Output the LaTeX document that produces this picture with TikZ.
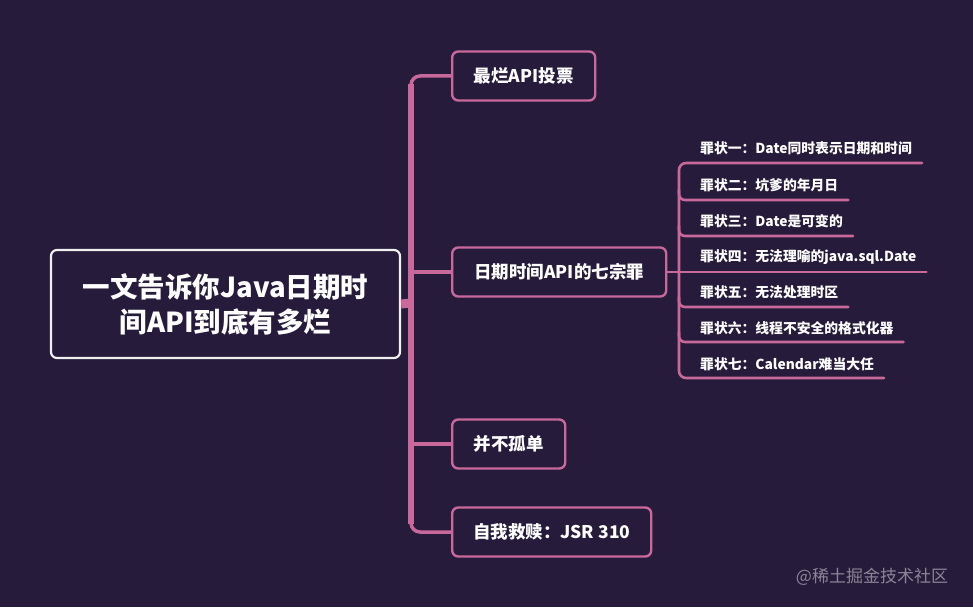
\documentclass[tikz,border=0pt]{standalone}
\usepackage{fontspec}
\setmainfont{Noto Sans CJK SC}
\usetikzlibrary{calc}
\definecolor{bgc}{HTML}{261B3A}
\definecolor{pk}{HTML}{C9689B}
\definecolor{wm}{HTML}{8C8498}
\begin{document}
\begin{tikzpicture}[x=1pt,y=-1pt,
  rootbox/.style={draw=white!94!black,line width=2.2pt,rounded corners=6pt,fill=bgc,text=white,
    minimum width=349pt,minimum height=108pt,align=center,inner sep=0pt,
    font=\bfseries\fontsize{27.5}{35}\selectfont},
  brbox/.style={draw=pk,line width=2.4pt,rounded corners=6pt,fill=bgc,text=white,
    minimum height=49pt,anchor=west,inner xsep=20pt,font=\bfseries\fontsize{17.5}{20}\selectfont},
  item/.style={anchor=west,text=white,inner xsep=10pt,inner ysep=2pt,font=\bfseries\fontsize{13.8}{16}\selectfont},
  trunk/.style={draw=pk,line width=6pt},
  branch/.style={draw=pk,line width=3.5pt},
  sub/.style={draw=pk,line width=2.6pt,line cap=round}]
\fill[bgc] (0,0) rectangle (973,607);
\useasboundingbox (0,0) rectangle (973,607);
% root
\node[rootbox] (root) at (225.5,304) {一文告诉你Java日期时\\间API到底有多烂};
% branch boxes
\node[brbox,minimum width=143pt] (b1) at (451,76) {最烂API投票};
\node[brbox,minimum width=214pt] (b2) at (451,272) {日期时间API的七宗罪};
\node[brbox,minimum width=113pt] (b3) at (451,444) {并不孤单};
\node[brbox,minimum width=199pt] (b4) at (451,532) {自我救赎：JSR 310};
% trunk
\coordinate (tk) at (411,303);
\coordinate (tktop) at (411,76);
\coordinate (tkbot) at (411,532);
\draw[branch,rounded corners=9pt] (b1.west) -- (tktop) -- (411,120);
\draw[branch,rounded corners=9pt] (411,480) -- (tkbot) -- (b4.west);
\draw[trunk] ($(tktop)+(0,8)$) -- ($(tkbot)+(0,-8)$);
\draw[draw=pk,line width=9pt] (root.east) -- (tk);
\draw[branch] (tk |- b2.west) -- (b2.west);
\draw[branch] (tk |- b3.west) -- (b3.west);
% sub items
\node[item] (s1) at (690,148) {罪状一：Date同时表示日期和时间};
\node[item] (s2) at (690,185) {罪状二：坑爹的年月日};
\node[item] (s3) at (690,221) {罪状三：Date是可变的};
\node[item] (s4) at (690,257) {罪状四：无法理喻的java.sql.Date};
\node[item] (s5) at (690,292) {罪状五：无法处理时区};
\node[item] (s6) at (690,328) {罪状六：线程不安全的格式化器};
\node[item] (s7) at (690,364) {罪状七：Calendar难当大任};
\coordinate (sv) at (679,272);
\draw[sub,line cap=butt] (b2.east) -- (sv);
\draw[sub,rounded corners=7pt] (s1.east |- 0,163) -- (sv |- 0,163) -- (sv |- 0,378) -- (s7.east |- 0,378);
\foreach \n/\yy in {2/200,3/236,5/307,6/342}{
  \draw[sub,rounded corners=6pt] (679,\yy-10) -- (679,\yy) -- (s\n.east |- 0,\yy);
}
\draw[sub] (sv |- 0,272) -- (s4.east |- 0,272);
% watermark
\node[text=wm,font=\fontsize{17}{20}\selectfont,inner sep=0pt] (wmk) at (872,577) {@稀土掘金技术社区};
\end{tikzpicture}
\end{document}
